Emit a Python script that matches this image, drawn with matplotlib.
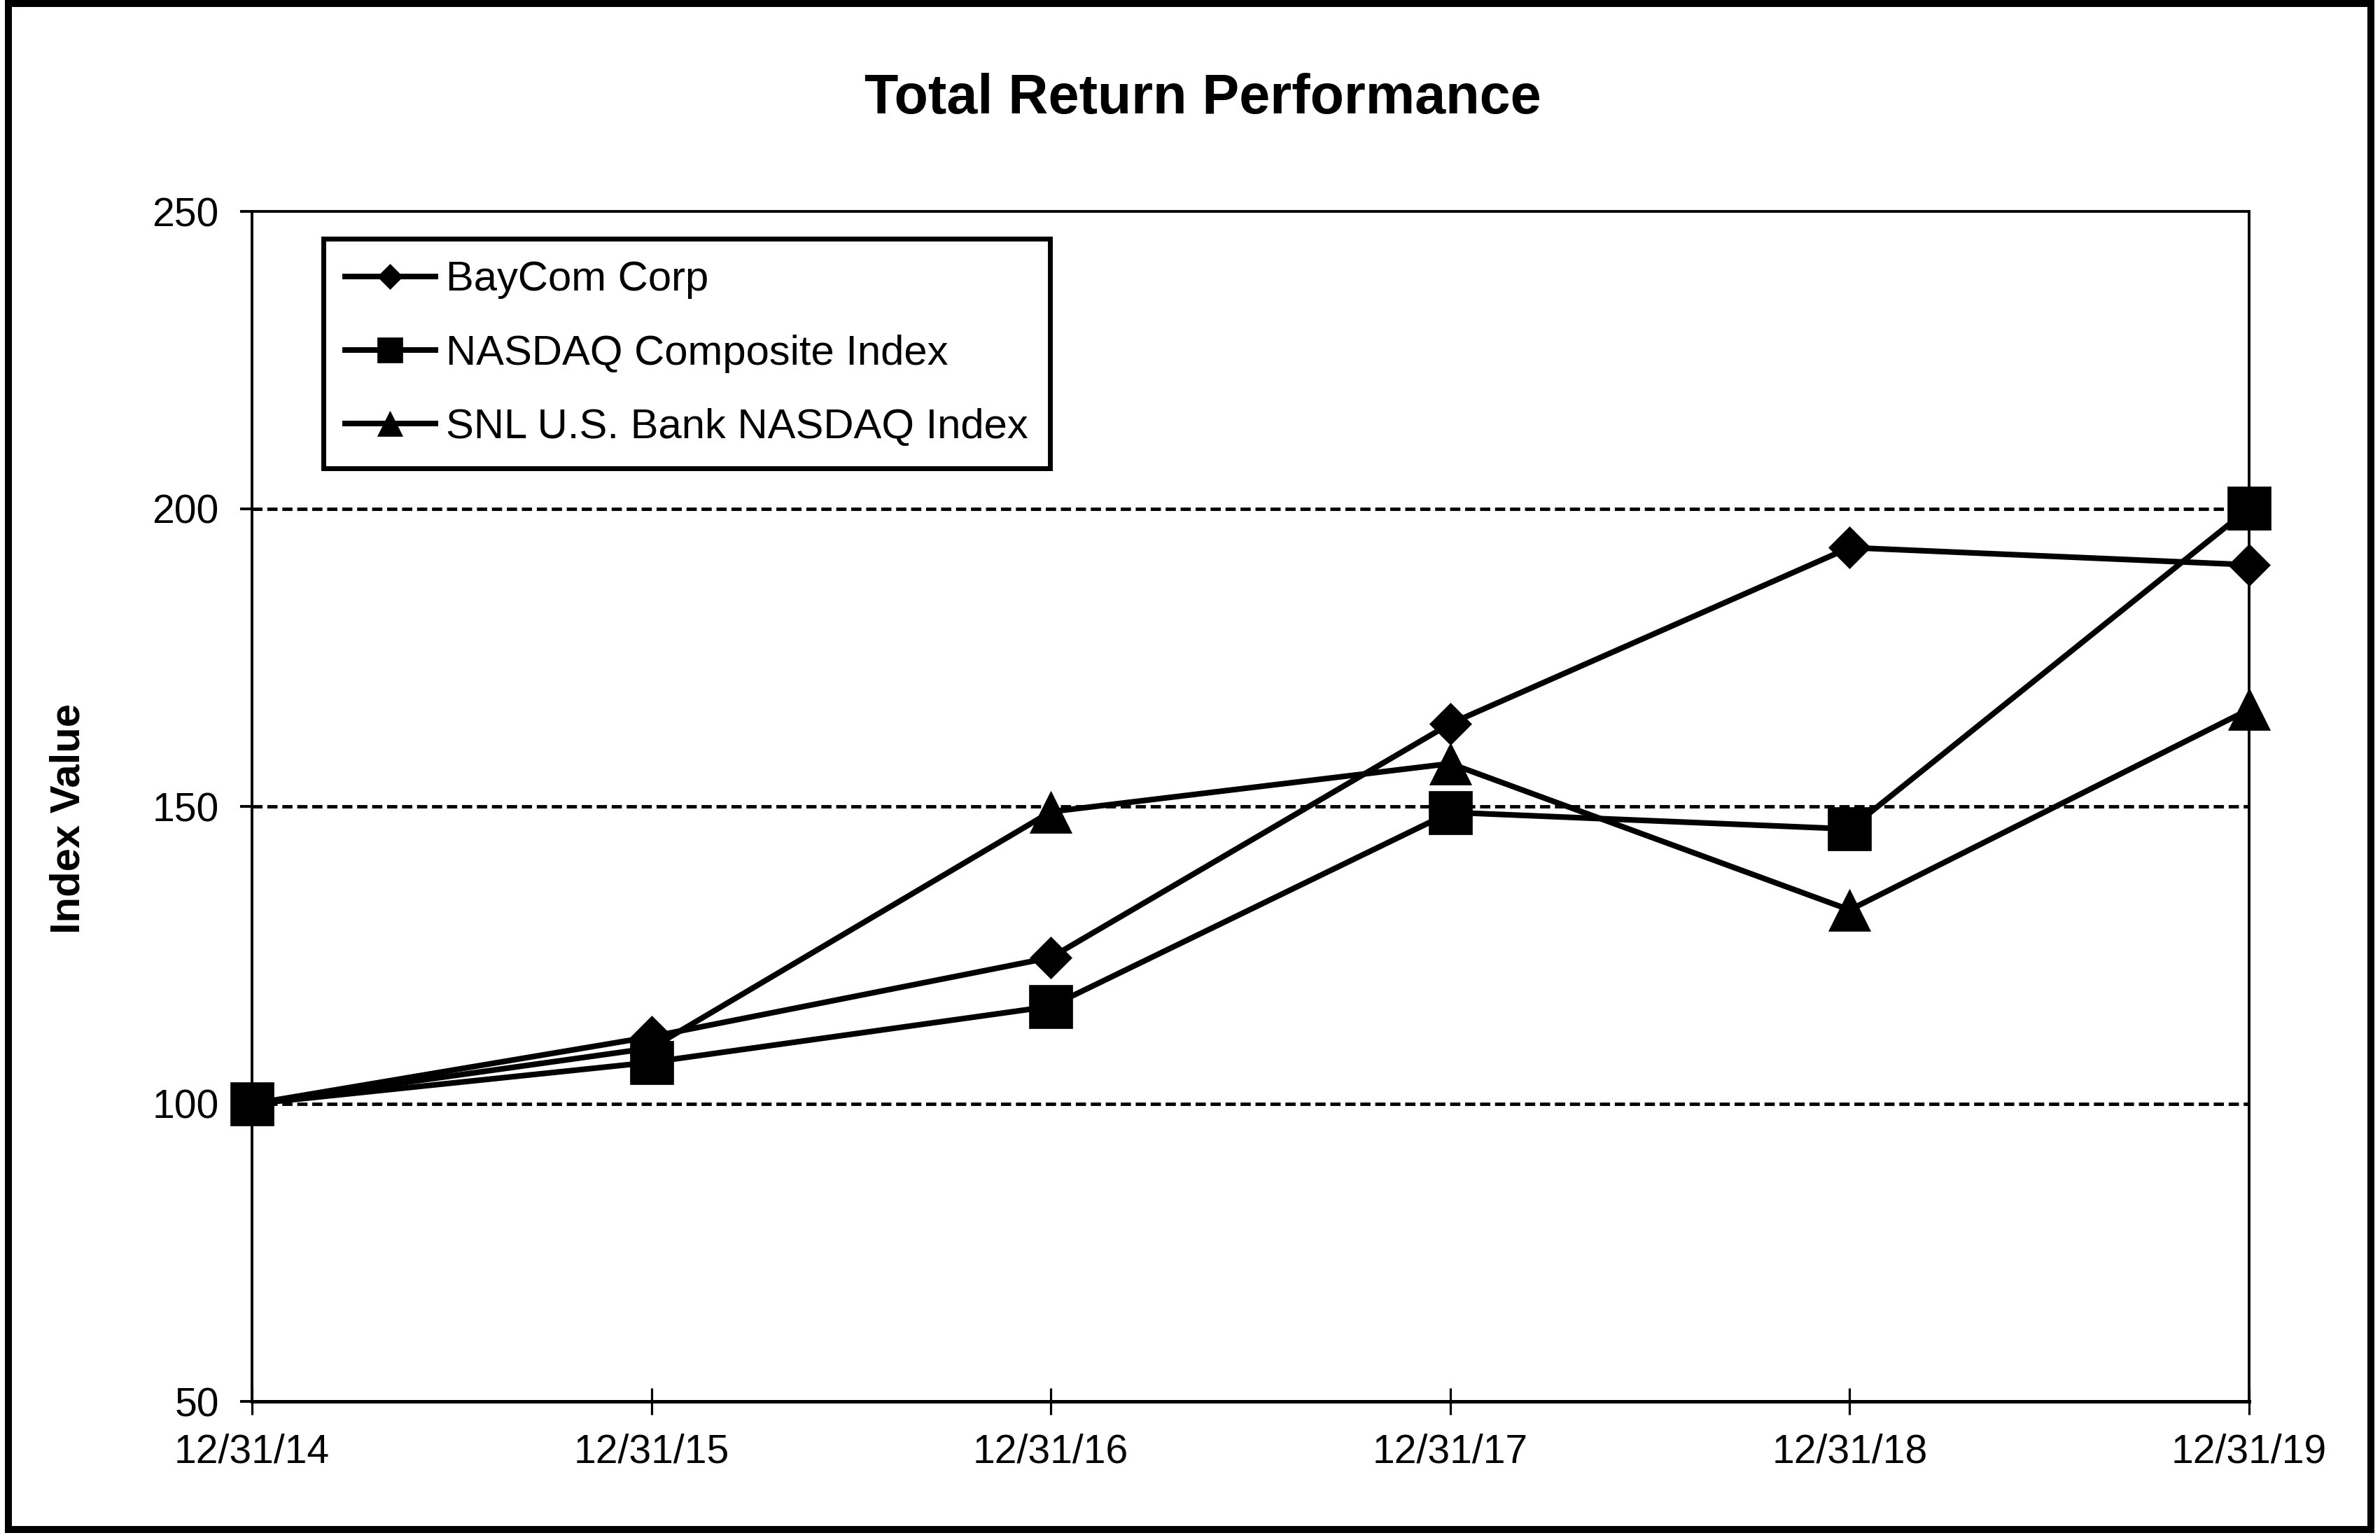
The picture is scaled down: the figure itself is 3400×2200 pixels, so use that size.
import matplotlib
matplotlib.use("Agg")
import matplotlib.pyplot as plt
import matplotlib.patches as patches

plt.rcParams['font.family'] = ['Liberation Sans', 'DejaVu Sans']

#The chart values
dates = ["12/31/14", "12/31/15", "12/31/16", "12/31/17", "12/31/18", "12/31/19"]
baycom = [100.0, 111.3, 124.6, 163.9, 193.5, 190.6]
nasdaq = [100.0, 107.0, 116.4, 149.0, 146.2, 200.1]
snl_bank = [100.0, 109.4, 149.1, 157.2, 132.6, 166.3]

series_names = ["BayCom Corp", "NASDAQ Composite Index", "SNL U.S. Bank NASDAQ Index"]
y_ticks = [50, 100, 150, 200, 250]

fig = plt.figure(figsize=(34, 22), dpi=100)
ax = fig.add_axes([360/3400, 198/2200, (3213-360)/3400, (2002-302)/2200])

x = list(range(len(dates)))

#The dashed grid lines inside the box
for v in y_ticks[1:-1]:
    ax.axhline(v, color='black', linewidth=3.5, linestyle=(0, (3.0, 1.4)), zorder=1)

ax.plot(x, baycom, color='black', linewidth=5.8, marker='D', markersize=30.5,
        markeredgewidth=0.5, label=series_names[0], clip_on=False, zorder=3)
ax.plot(x, nasdaq, color='black', linewidth=5.8, marker='s', markersize=44,
        markeredgewidth=0.5, label=series_names[1], clip_on=False, zorder=3)
ax.plot(x, snl_bank, color='black', linewidth=5.8, marker='^', markersize=43,
        markeredgewidth=0.5, label=series_names[2], clip_on=False, zorder=3)

ax.set_xlim(0, len(dates) - 1)
ax.set_ylim(y_ticks[0], y_ticks[-1])
ax.set_xticks(x)
ax.set_xticklabels(dates)
ax.set_yticks(y_ticks)
ax.set_yticklabels([str(v) for v in y_ticks])

ax.tick_params(axis='y', direction='out', length=12, width=2.8, pad=22, labelsize=41)
ax.tick_params(axis='x', direction='inout', length=27, width=2.3, pad=19, labelsize=41)

for side in ['left', 'top', 'right']:
    ax.spines[side].set_linewidth(2.8)
ax.spines['bottom'].set_linewidth(3.6)

leg = ax.legend(loc='upper left', bbox_to_anchor=(0.0356, 0.9768), borderaxespad=0,
                fontsize=43, markerscale=0.6, handlelength=2.16, handletextpad=0.26,
                borderpad=0.52, labelspacing=0.84, fancybox=False, framealpha=1)
leg.get_frame().set_edgecolor('black')
leg.get_frame().set_linewidth(5)

#Title and y label
fig.text(1718/3400, 1 - 162/2200, "Total Return Performance", fontsize=57,
         fontweight='bold', ha='center', va='baseline')
fig.text(98/3400, 1 - 1170/2200, "Index Value", fontsize=43, fontweight='bold',
         rotation=90, ha='center', va='center')

#The outer border of the whole picture
border = patches.Rectangle((12/3400, 15/2200), (3387-12)/3400, (2185-5)/2200,
                           transform=fig.transFigure, fill=False,
                           edgecolor='black', linewidth=7.2)
fig.patches.append(border)

fig.savefig('out.png', dpi=100)
